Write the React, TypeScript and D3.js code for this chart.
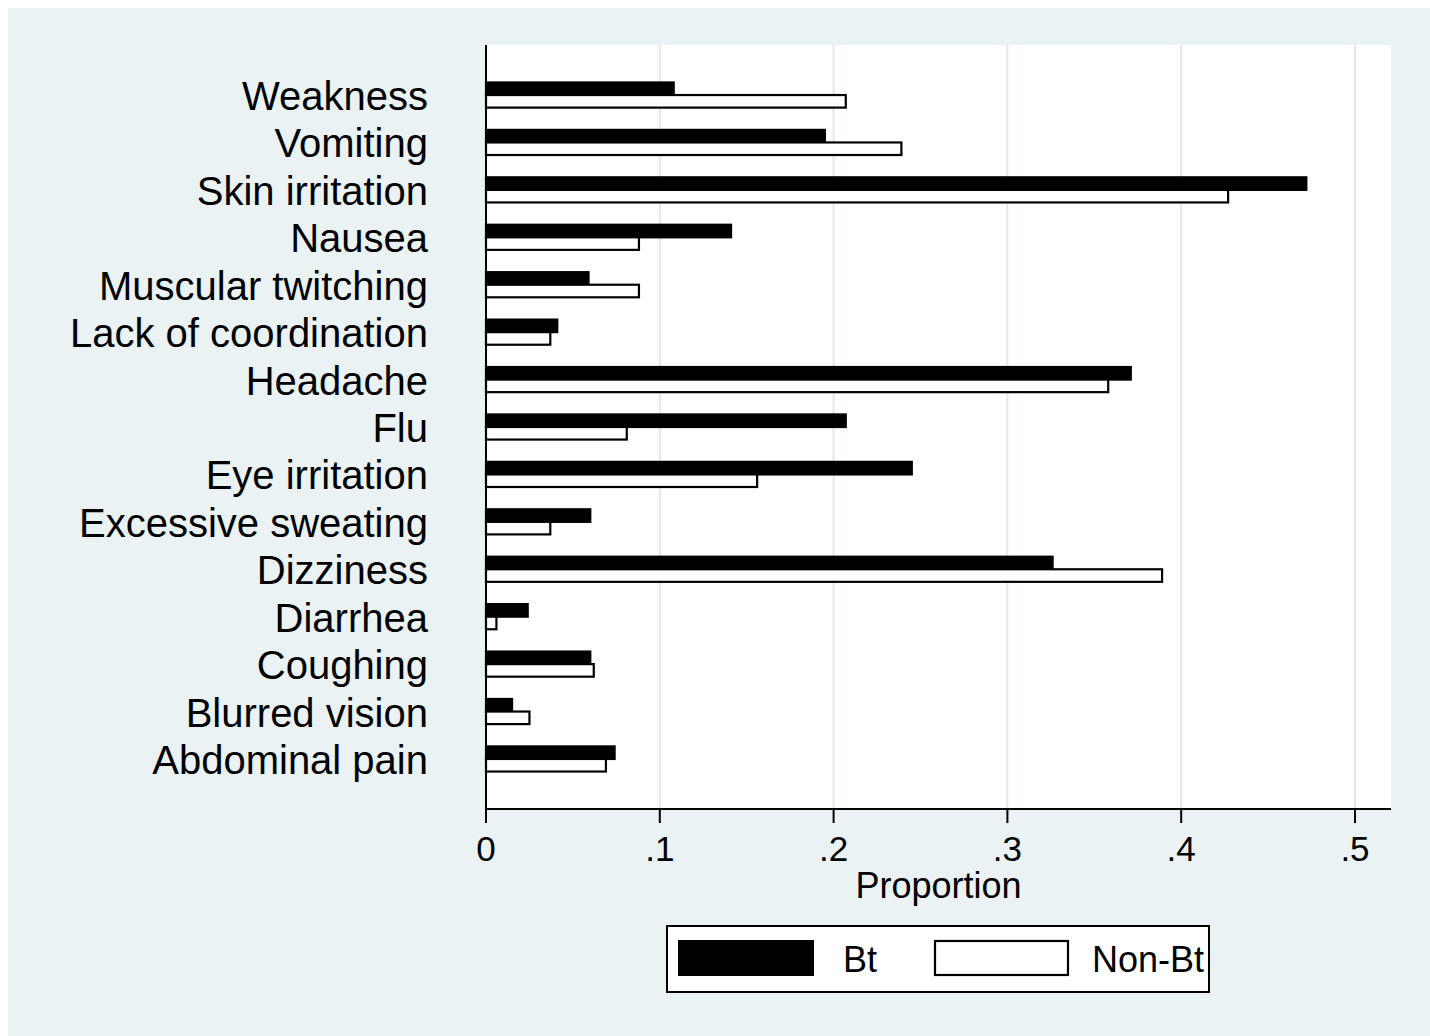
import { useEffect } from 'react';
import * as d3 from 'd3';

// symptoms, top to bottom as drawn
const categories = [
  'Weakness',
  'Vomiting',
  'Skin irritation',
  'Nausea',
  'Muscular twitching',
  'Lack of coordination',
  'Headache',
  'Flu',
  'Eye irritation',
  'Excessive sweating',
  'Dizziness',
  'Diarrhea',
  'Coughing',
  'Blurred vision',
  'Abdominal pain'
];

const btValues = [0.108, 0.195, 0.472, 0.141, 0.059, 0.041, 0.371, 0.207, 0.245, 0.06, 0.326, 0.024, 0.06, 0.015, 0.074];
const nonBtValues = [0.207, 0.239, 0.427, 0.088, 0.088, 0.037, 0.358, 0.081, 0.156, 0.037, 0.389, 0.006, 0.062, 0.025, 0.069];

const seriesNames = ['Bt', 'Non-Bt'];
const xTicks = [0, 0.1, 0.2, 0.3, 0.4, 0.5];
const xTickLabels = ['0', '.1', '.2', '.3', '.4', '.5'];
const xTitle = 'Proportion';

const bgColor = '#eaf2f3';
const gridColor = '#dce8eb';
const font = '"Liberation Sans", Arial, sans-serif';

export default function App() {
  const width = 1422;
  const height = 1028;

  // plot region in page coordinates (group below is shifted by the body margin)
  const plotLeft = 486;
  const plotRight = 1391;
  const plotTop = 45;
  const plotBottom = 809;

  useEffect(() => {
    document.body.style.overflow = 'hidden';
  }, []);

  const x = d3.scaleLinear().domain([0, 0.5]).range([plotLeft, 1355]);
  const y = d3.scaleBand<string>()
    .domain(categories)
    .range([plotTop, plotBottom])
    .paddingInner(0.47)
    .paddingOuter(0.79);
  const sub = d3.scaleBand<string>()
    .domain(seriesNames)
    .range([0, y.bandwidth()]);

  const series = [
    { name: 'Bt', values: btValues, fill: '#000' },
    { name: 'Non-Bt', values: nonBtValues, fill: '#fff' }
  ];

  return (
    <svg width={width} height={height} style={{ display: 'block', position: 'absolute', left: 8, top: 8 }}>
      <g transform="translate(-8,-8)">
        <rect x={8} y={8} width={width} height={height} fill={bgColor} />
        <rect x={plotLeft} y={plotTop} width={plotRight - plotLeft} height={plotBottom - plotTop} fill="#fff" />

        {/* grid */}
        {xTicks.slice(1).map((t) => (
          <line key={t} x1={x(t)} x2={x(t)} y1={plotTop} y2={plotBottom} stroke={gridColor} strokeWidth={2} />
        ))}

        {/* bars */}
        {series.map((s) => (
          <g key={s.name}>
            {categories.map((c, i) => (
              <rect
                key={c}
                x={x(0)}
                y={(y(c) ?? 0) + (sub(s.name) ?? 0)}
                width={x(s.values[i]) - x(0)}
                height={sub.bandwidth()}
                fill={s.fill}
                stroke="#000"
                strokeWidth={2.2}
              />
            ))}
          </g>
        ))}

        {/* axes */}
        <line x1={plotLeft} x2={plotLeft} y1={plotTop} y2={plotBottom} stroke="#000" strokeWidth={2} />
        <line x1={plotLeft} x2={plotRight} y1={plotBottom} y2={plotBottom} stroke="#000" strokeWidth={2} />
        {xTicks.map((t, i) => (
          <g key={t}>
            <line x1={x(t)} x2={x(t)} y1={plotBottom} y2={plotBottom + 14} stroke="#000" strokeWidth={2} />
            <text x={x(t)} y={861} textAnchor="middle" fontFamily={font} fontSize={35} fill="#000">
              {xTickLabels[i]}
            </text>
          </g>
        ))}
        <text x={(plotLeft + plotRight) / 2} y={898} textAnchor="middle" fontFamily={font} fontSize={36} fill="#000">
          {xTitle}
        </text>

        {/* category labels */}
        {categories.map((c) => (
          <text
            key={c}
            x={428}
            y={(y(c) ?? 0) + y.bandwidth() / 2 + 15}
            textAnchor="end"
            fontFamily={font}
            fontSize={40}
            fill="#000"
          >
            {c}
          </text>
        ))}

        {/* legend */}
        <rect x={667} y={926} width={542} height={66} fill="#fff" stroke="#000" strokeWidth={2} />
        <rect x={679} y={941} width={134} height={34} fill="#000" stroke="#000" strokeWidth={2} />
        <text x={843} y={972} fontFamily={font} fontSize={36} fill="#000">{seriesNames[0]}</text>
        <rect x={935} y={941} width={133} height={34} fill="#fff" stroke="#000" strokeWidth={2.2} />
        <text x={1092} y={972} fontFamily={font} fontSize={36} fill="#000">{seriesNames[1]}</text>
      </g>
    </svg>
  );
}
